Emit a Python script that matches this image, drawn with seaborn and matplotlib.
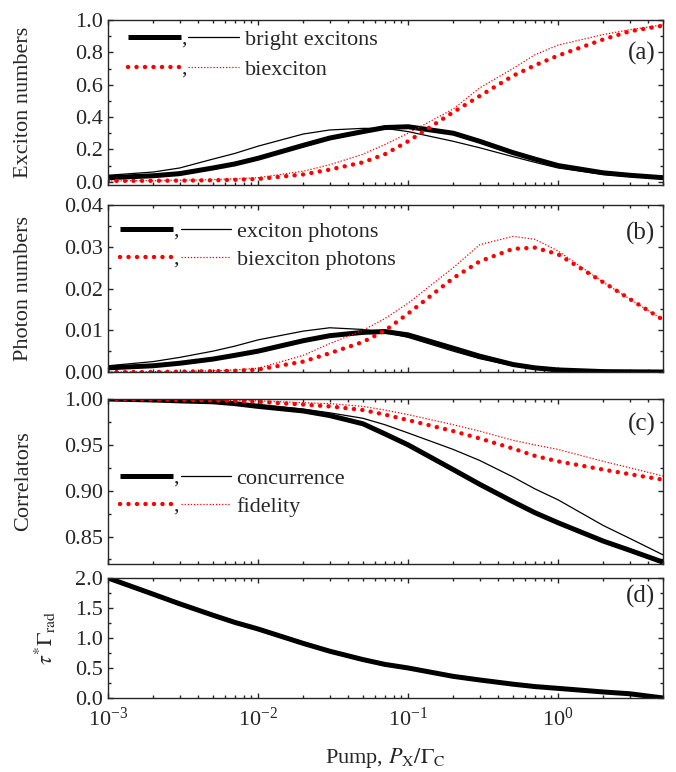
import numpy as np
import pandas as pd
import matplotlib
matplotlib.use("Agg")
import matplotlib.pyplot as plt
from matplotlib.ticker import MultipleLocator, FormatStrFormatter
import seaborn as sns

# pump rate P_X / Gamma_C
pump = [0.001, 0.002, 0.003, 0.005, 0.007, 0.01, 0.02, 0.03, 0.05, 0.07,
        0.1, 0.2, 0.3, 0.5, 0.7, 1.0, 2.0, 3.0, 5.0]

# (a) exciton numbers
bright_thick = [0.025, 0.037, 0.05, 0.085, 0.11, 0.145, 0.225, 0.27, 0.31, 0.335,
                0.34, 0.30, 0.25, 0.18, 0.14, 0.10, 0.055, 0.04, 0.025]
bright_thin = [0.04, 0.06, 0.085, 0.14, 0.175, 0.22, 0.295, 0.32, 0.33, 0.33,
               0.31, 0.25, 0.21, 0.155, 0.12, 0.085, 0.045, 0.032, 0.02]
biex_thick = [0.005, 0.006, 0.007, 0.009, 0.012, 0.017, 0.045, 0.075, 0.12, 0.17,
              0.25, 0.43, 0.53, 0.655, 0.72, 0.78, 0.88, 0.93, 0.965]
biex_thin = [0.005, 0.007, 0.009, 0.013, 0.018, 0.025, 0.065, 0.105, 0.17, 0.23,
             0.30, 0.45, 0.58, 0.70, 0.785, 0.845, 0.91, 0.94, 0.97]

# (b) photon numbers
xphot_thick = [0.0010, 0.0015, 0.0021, 0.0031, 0.0040, 0.0050, 0.0075, 0.0087, 0.0095, 0.0097,
               0.0089, 0.0057, 0.0038, 0.0018, 0.0010, 0.0005, 0.0001, 0.00005, 0.0]
xphot_thin = [0.0015, 0.0025, 0.0035, 0.0050, 0.0062, 0.0077, 0.0098, 0.0106, 0.0102, 0.0095,
              0.0083, 0.0050, 0.0032, 0.0015, 0.0008, 0.0004, 0.0001, 0.0, 0.0]
bphot_thick = [0.0, 0.0, 0.0001, 0.0002, 0.0003, 0.0006, 0.0025, 0.0045, 0.0072, 0.0099,
               0.0140, 0.0225, 0.0265, 0.0295, 0.0298, 0.0282, 0.0215, 0.0175, 0.0125]
bphot_thin = [0.0, 0.0001, 0.0001, 0.0003, 0.0005, 0.0009, 0.0040, 0.0068, 0.0100, 0.0128,
              0.0165, 0.0250, 0.0305, 0.0325, 0.0318, 0.0290, 0.0215, 0.0175, 0.0125]

# (c) correlators
conc_thick = [1.0, 0.999, 0.998, 0.997, 0.995, 0.992, 0.987, 0.982, 0.973, 0.962,
              0.950, 0.923, 0.907, 0.888, 0.876, 0.865, 0.845, 0.835, 0.822]
conc_thin = [1.0, 0.9993, 0.998, 0.997, 0.996, 0.994, 0.989, 0.985, 0.979, 0.972,
             0.963, 0.945, 0.933, 0.915, 0.902, 0.890, 0.862, 0.848, 0.830]
fid_thick = [1.0, 0.9995, 0.999, 0.9985, 0.998, 0.997, 0.994, 0.992, 0.988, 0.983,
             0.977, 0.965, 0.957, 0.946, 0.938, 0.932, 0.923, 0.918, 0.912]
fid_thin = [1.0, 0.9997, 0.9995, 0.999, 0.9985, 0.998, 0.996, 0.995, 0.992, 0.988,
            0.983, 0.972, 0.965, 0.955, 0.950, 0.945, 0.932, 0.925, 0.916]

# (d) tau* Gamma_rad
tau_rad = [2.0, 1.73, 1.57, 1.38, 1.26, 1.15, 0.91, 0.78, 0.64, 0.56,
           0.50, 0.36, 0.30, 0.23, 0.19, 0.16, 0.10, 0.07, 0.0]

sns.set_style("ticks")
plt.rcParams['font.family'] = ['Liberation Serif', 'DejaVu Serif']
plt.rcParams['mathtext.fontset'] = 'stix'
plt.rcParams['xtick.direction'] = 'in'
plt.rcParams['ytick.direction'] = 'in'

STYLES = {
    'thick': dict(color='black', lw=3.6, solid_capstyle='butt'),
    'thin': dict(color='black', lw=0.9),
    'dots': dict(color='red', lw=3.2, linestyle=(0, (0.01, 1.9)), dash_capstyle='round'),
    'fine': dict(color='red', lw=0.9, linestyle=(0, (1, 1.5))),
}

fig = plt.figure(figsize=(6.76, 7.72), dpi=100)
L, W = 0.1598, 0.821
axa = fig.add_axes([L, 0.7604, W, 0.2137])
axb = fig.add_axes([L, 0.5181, W, 0.2163])
axc = fig.add_axes([L, 0.2694, W, 0.2137])
axd = fig.add_axes([L, 0.0959, W, 0.1554])


def draw(ax, y, kind):
    sns.lineplot(x=pump, y=y, ax=ax, **STYLES[kind])


def legend_row(ax, x0, y, main, aux, label):
    ax.plot([x0, x0 + 0.096], [y, y], transform=ax.transAxes, **STYLES[main])
    ax.annotate(',', (x0 + 0.101, y), xycoords='axes fraction', xytext=(0, -5),
                textcoords='offset points', ha='center', va='baseline', fontsize=16)
    ax.plot([x0 + 0.109, x0 + 0.2], [y, y], transform=ax.transAxes, **STYLES[aux])
    ax.annotate(label, (x0 + 0.21, y), xycoords='axes fraction', xytext=(0, -6),
                textcoords='offset points', ha='left', va='baseline', fontsize=16)


for ax in (axa, axb, axc, axd):
    ax.set_xscale('log')

draw(axa, bright_thick, 'thick')
draw(axa, bright_thin, 'thin')
draw(axa, biex_thin, 'fine')
draw(axa, biex_thick, 'dots')
legend_row(axa, 0.036, 0.897, 'thick', 'thin', 'bright excitons')
legend_row(axa, 0.036, 0.715, 'dots', 'fine', 'biexciton')

draw(axb, xphot_thick, 'thick')
draw(axb, xphot_thin, 'thin')
draw(axb, bphot_thin, 'fine')
draw(axb, bphot_thick, 'dots')
legend_row(axb, 0.0216, 0.856, 'thick', 'thin', 'exciton photons')
legend_row(axb, 0.0216, 0.689, 'dots', 'fine', 'biexciton photons')

draw(axc, conc_thick, 'thick')
draw(axc, conc_thin, 'thin')
draw(axc, fid_thin, 'fine')
draw(axc, fid_thick, 'dots')
legend_row(axc, 0.0216, 0.533, 'thick', 'thin', 'concurrence')
legend_row(axc, 0.0216, 0.364, 'dots', 'fine', 'fidelity')

draw(axd, tau_rad, 'thick')

settings = [
    (axa, (-0.02, 1.0), 0.2, 0.1, '%.1f', 'Exciton numbers', '(a)', 0.87),
    (axb, (0.0, 0.04), 0.01, 0.005, '%.2f', 'Photon numbers', '(b)', 0.90),
    (axc, (0.82, 1.0), 0.05, 0.025, '%.2f', 'Correlators', '(c)', 0.915),
    (axd, (0.0, 2.0), 0.5, 0.25, '%.1f', r'$\tau^{*}\Gamma_{\mathrm{rad}}$', '(d)', 0.94),
]
for ax, ylim, major, minor, fmt, ylab, tag, ty in settings:
    ax.set_xlim(1e-3, 5)
    ax.set_ylim(*ylim)
    ax.yaxis.set_major_locator(MultipleLocator(major))
    ax.yaxis.set_minor_locator(MultipleLocator(minor))
    ax.yaxis.set_major_formatter(FormatStrFormatter(fmt))
    ax.tick_params(which='both', top=True, right=True, labelsize=16, width=1.0)
    ax.tick_params(which='major', length=3.5)
    ax.tick_params(which='minor', length=2.2)
    for s in ax.spines.values():
        s.set_linewidth(1.0)
    ax.set_ylabel(ylab, fontsize=16)
    ax.text(0.986, ty, tag, transform=ax.transAxes, ha='right', va='top', fontsize=18)
    if ax is not axd:
        ax.tick_params(labelbottom=False)
        ax.yaxis.set_label_coords(-0.135, 0.5)
    else:
        ax.yaxis.set_label_coords(-0.09, 0.5)

axd.tick_params(axis='x', pad=7)
axd.set_xlabel(r'Pump, $P_{\mathrm{X}}/\Gamma_{\mathrm{C}}$', fontsize=16, labelpad=11)

fig.savefig('out.png', dpi=100)
